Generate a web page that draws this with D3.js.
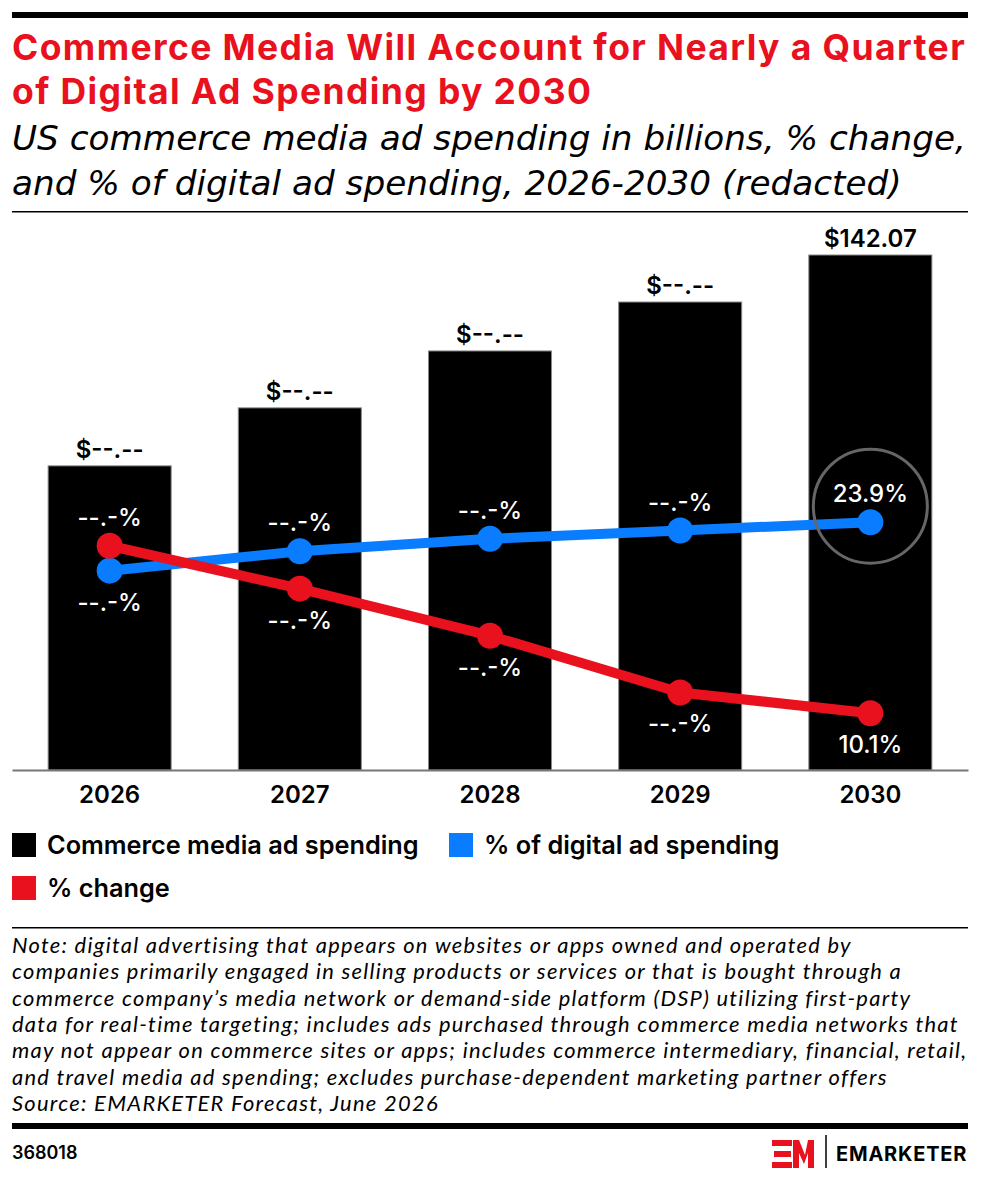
<!DOCTYPE html>
<html>
<head>
<meta charset="utf-8">
<script src="https://cdn.jsdelivr.net/npm/d3@7/dist/d3.min.js"></script>
<style>
  body { margin: 0; background: #ffffff; }
  svg { display: block; }
</style>
</head>
<body>
<div id="chart"></div>
<script>
// Chart data (redacted values estimated from bar/point positions)
const years = ['2026', '2027', '2028', '2029', '2030'];
const spending = [83.9, 99.9, 115.6, 129.1, 142.07];
const spendingLabels = ['$--.--', '$--.--', '$--.--', '$--.--', '$142.07'];
const pctDigital = [20.4, 21.8, 22.7, 23.3, 23.9];
const pctDigitalLabels = ['--.-%', '--.-%', '--.-%', '--.-%', '23.9%'];
const pctChange = [22.2, 19.1, 15.7, 11.6, 10.1];
const pctChangeLabels = ['--.-%', '--.-%', '--.-%', '--.-%', '10.1%'];
const legendLabels = ['Commerce media ad spending', '% of digital ad spending', '% change'];
const titleLines = [
  'Commerce Media Will Account for Nearly a Quarter',
  'of Digital Ad Spending by 2030'
];
const subtitleLines = [
  'US commerce media ad spending in billions, % change,',
  'and % of digital ad spending, 2026-2030 (redacted)'
];
const noteLines = [
  'Note: digital advertising that appears on websites or apps owned and operated by',
  'companies primarily engaged in selling products or services or that is bought through a',
  'commerce company\u2019s media network or demand-side platform (DSP) utilizing first-party',
  'data for real-time targeting; includes ads purchased through commerce media networks that',
  'may not appear on commerce sites or apps; includes commerce intermediary, financial, retail,',
  'and travel media ad spending; excludes purchase-dependent marketing partner offers',
  'Source: EMARKETER Forecast, June 2026'
];

const RED = '#e8111d';
const BLUE = '#0a7cff';
const width = 982;
const height = 1180;

const svg = d3.select('#chart')
  .append('svg')
  .attr('width', width)
  .attr('height', height);

// multi-line block as one <text>; line `fitIndex` is made to span `target` px.
// If the needed size passes maxSize, keep maxSize and widen with letter-spacing.
function textBlock(lines, opts) {
  const t = svg.append('text')
    .style('font-family', opts.family)
    .style('font-weight', opts.weight || 400)
    .style('font-style', opts.style || 'normal')
    .style('font-size', '30px')
    .style('fill', opts.fill || '#000');
  const spans = t.selectAll('tspan')
    .data(lines)
    .join('tspan')
    .attr('x', 12)
    .attr('y', (d, i) => opts.y + i * opts.step)
    .text(d => d);
  const fitNode = spans.nodes()[opts.fitIndex];
  const w = fitNode.getComputedTextLength();
  let size = 30 * opts.target / w;
  if (opts.maxSize && size > opts.maxSize) {
    size = opts.maxSize;
    t.style('font-size', size + 'px');
    const w2 = fitNode.getComputedTextLength();
    const n = lines[opts.fitIndex].length;
    t.style('letter-spacing', ((opts.target - w2) / n) + 'px');
  } else {
    t.style('font-size', size + 'px');
  }
  return t;
}

// Header
svg.append('rect').attr('x', 12).attr('y', 12).attr('width', 956).attr('height', 6).attr('fill', '#000');

textBlock(titleLines, {
  family: 'Inter, sans-serif', weight: 700, fill: RED,
  y: 60, step: 43.5, fitIndex: 0, target: 954, maxSize: 35.5
});

textBlock(subtitleLines, {
  family: '"DejaVu Sans", sans-serif', style: 'italic', weight: 400,
  y: 150, step: 45, fitIndex: 0, target: 954, maxSize: 38
});

svg.append('rect').attr('x', 12).attr('y', 211).attr('width', 956).attr('height', 1.5).attr('fill', '#000');

// Scales
const x = d3.scaleBand()
  .domain(years)
  .range([12, 968])
  .paddingInner(0.353)
  .paddingOuter(0.19);

const y = d3.scaleLinear()
  .domain([0, 150])
  .range([770, 226.25]);

// shared scale for both percentage series
const y2 = d3.scaleLinear()
  .domain([0, 30])
  .range([853, 437.8]);

const xc = d => x(d) + x.bandwidth() / 2;

// Bars
svg.append('g')
  .selectAll('rect')
  .data(years)
  .join('rect')
  .attr('x', d => x(d))
  .attr('y', (d, i) => y(spending[i]))
  .attr('width', x.bandwidth())
  .attr('height', (d, i) => y(0) - y(spending[i]))
  .attr('fill', '#000')
  .attr('stroke', '#8a8a8a')
  .attr('stroke-width', 1);

// Bar value labels
svg.append('g')
  .selectAll('text')
  .data(years)
  .join('text')
  .attr('x', d => xc(d))
  .attr('y', (d, i) => y(spending[i]) - 8)
  .attr('text-anchor', 'middle')
  .style('font-family', 'Inter, sans-serif')
  .style('font-weight', 600)
  .style('font-size', '24px')
  .style('fill', '#000')
  .text((d, i) => spendingLabels[i]);

// X axis
const xAxis = svg.append('g')
  .attr('transform', `translate(0,${y(0)})`)
  .call(d3.axisBottom(x).tickSize(0).tickSizeOuter(0).tickPadding(16));
xAxis.select('.domain').attr('stroke', '#777').attr('stroke-width', 2);
xAxis.selectAll('text')
  .style('font-family', 'Inter, sans-serif')
  .style('font-weight', 600)
  .style('font-size', '24px')
  .style('fill', '#000');

// Lines
const series = [
  { name: 'digital', values: pctDigital, labels: pctDigitalLabels, color: BLUE },
  { name: 'change', values: pctChange, labels: pctChangeLabels, color: RED }
];

const line = d3.line()
  .x((d, i) => xc(years[i]))
  .y(d => y2(d));

series.forEach(s => {
  svg.append('path')
    .datum(s.values)
    .attr('d', line)
    .attr('fill', 'none')
    .attr('stroke', s.color)
    .attr('stroke-width', 10)
    .attr('stroke-linejoin', 'round');
  svg.append('g')
    .selectAll('circle')
    .data(s.values)
    .join('circle')
    .attr('cx', (d, i) => xc(years[i]))
    .attr('cy', d => y2(d))
    .attr('r', 13)
    .attr('fill', s.color);
});

// highlight ring on the 2030 share point
svg.append('circle')
  .attr('cx', xc('2030'))
  .attr('cy', y2(pctDigital[4]) - 16)
  .attr('r', 57)
  .attr('fill', 'none')
  .attr('stroke', '#666')
  .attr('stroke-width', 3);

// Point labels: higher series above, lower series below
series.forEach((s, si) => {
  const other = series[1 - si];
  svg.append('g')
    .selectAll('text')
    .data(s.values)
    .join('text')
    .attr('x', (d, i) => xc(years[i]))
    .attr('y', (d, i) => d >= other.values[i] ? y2(d) - 20 : y2(d) + 40)
    .attr('text-anchor', 'middle')
    .style('font-family', 'Inter, sans-serif')
    .style('font-weight', 500)
    .style('font-size', '24px')
    .style('fill', '#fff')
    .text((d, i) => s.labels[i]);
});

// Legend
const legendItems = [
  { label: legendLabels[0], color: '#000', x: 12, y: 833 },
  { label: legendLabels[1], color: BLUE, x: 449, y: 833 },
  { label: legendLabels[2], color: RED, x: 12, y: 876 }
];
const legend = svg.append('g')
  .selectAll('g')
  .data(legendItems)
  .join('g')
  .attr('transform', d => `translate(${d.x},${d.y})`);
legend.append('rect')
  .attr('width', 24).attr('height', 24)
  .attr('fill', d => d.color);
legend.append('text')
  .attr('x', 35).attr('y', 21)
  .style('font-family', 'Inter, sans-serif')
  .style('font-weight', 600)
  .style('font-size', '25.3px')
  .style('fill', '#000')
  .text(d => d.label);

// Note
svg.append('rect').attr('x', 12).attr('y', 927).attr('width', 956).attr('height', 1.5).attr('fill', '#000');

textBlock(noteLines, {
  family: 'Lato, sans-serif', style: 'italic', weight: 400,
  y: 953, step: 26.3, fitIndex: 4, target: 955, maxSize: 21.9
});

// Footer
svg.append('rect').attr('x', 12).attr('y', 1123).attr('width', 956).attr('height', 6).attr('fill', '#000');

svg.append('text')
  .attr('x', 12).attr('y', 1159)
  .style('font-family', 'Inter, sans-serif')
  .style('font-weight', 600)
  .style('font-size', '18px')
  .style('fill', '#000')
  .text('368018');

// EM mark
const logo = svg.append('g').attr('fill', RED);
logo.append('rect').attr('x', 772).attr('y', 1140).attr('width', 20).attr('height', 6);
logo.append('rect').attr('x', 774).attr('y', 1151).attr('width', 17).attr('height', 6);
logo.append('rect').attr('x', 772).attr('y', 1162).attr('width', 20).attr('height', 6);
logo.append('path')
  .attr('d', 'M793,1168 L793,1140 L799,1140 L805,1155 L808,1140 L814,1140 L814,1168 L808,1168 L808,1153 L804,1164 L799,1153 L799,1168 Z');
svg.append('line')
  .attr('x1', 826).attr('x2', 826)
  .attr('y1', 1135).attr('y2', 1168)
  .attr('stroke', '#000').attr('stroke-width', 1.5);
svg.append('text')
  .attr('x', 836).attr('y', 1161)
  .style('font-family', 'Inter, sans-serif')
  .style('font-weight', 700)
  .style('font-size', '20px')
  .style('letter-spacing', '0.8px')
  .style('fill', '#000')
  .text('EMARKETER');
</script>
</body>
</html>
